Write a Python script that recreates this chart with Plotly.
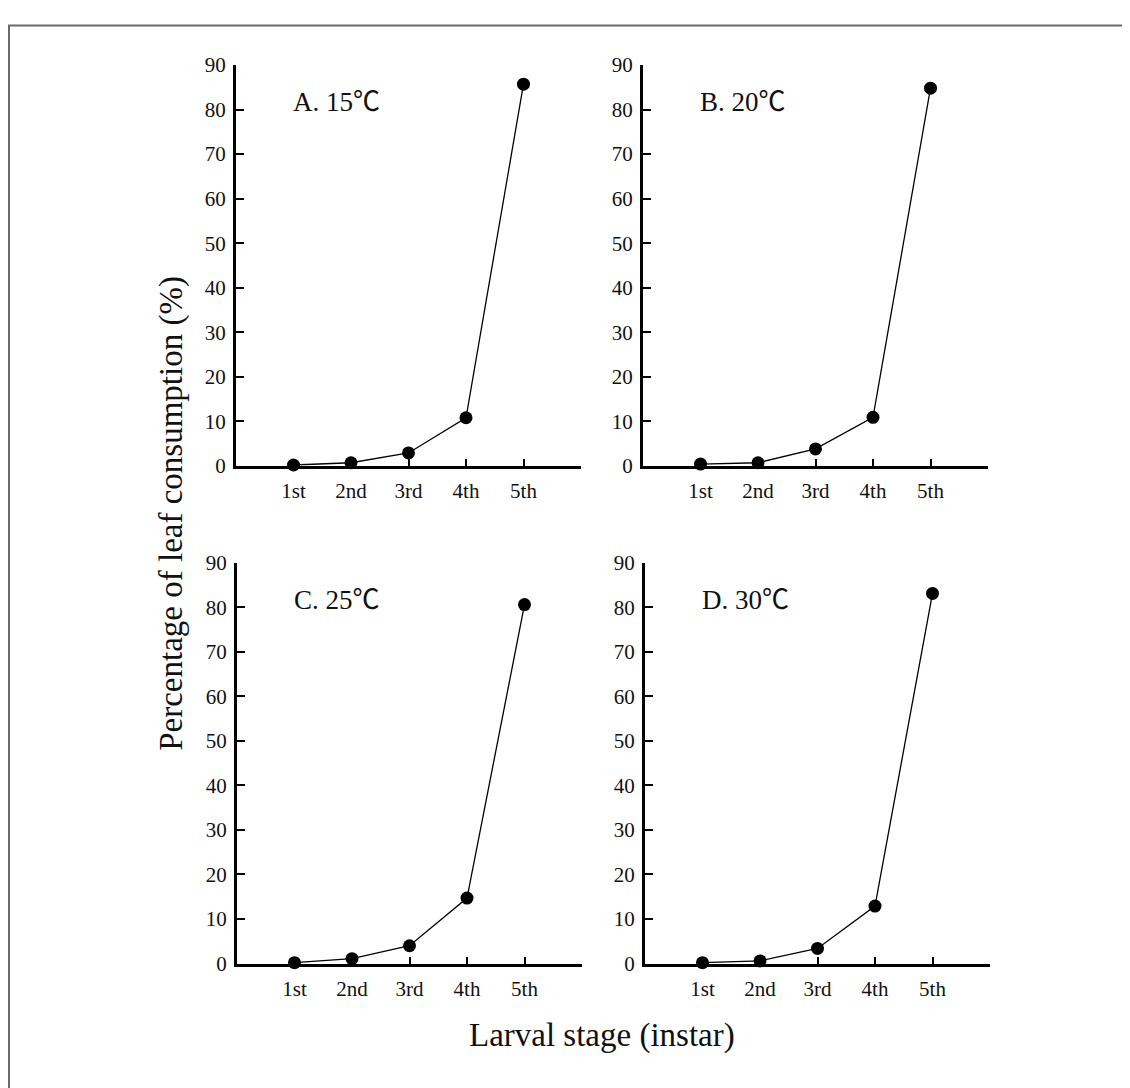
import plotly.graph_objects as go

# ---- data ----
stages = ["1st", "2nd", "3rd", "4th", "5th"]
stage_pos = [1, 2, 3, 4, 5]
panel_labels = ["A. 15℃", "B. 20℃", "C. 25℃", "D. 30℃"]
vals_15 = [0.2, 0.7, 2.9, 10.8, 85.7]
vals_20 = [0.4, 0.7, 3.8, 10.9, 84.8]
vals_25 = [0.2, 1.1, 4.0, 14.7, 80.6]
vals_30 = [0.2, 0.6, 3.4, 12.9, 83.1]
y_ticks = [0, 10, 20, 30, 40, 50, 60, 70, 80, 90]
x_title = "Larval stage (instar)"
y_title = "Percentage of leaf consumption (%)"

OFF = 8                      # default page body margin
W, H = 1130 - OFF, 1088 - OFF
FONT = "Liberation Serif, Times New Roman, Noto Sans CJK SC, serif"
TXT = "#111"


def px(v):
    return (v - OFF) / W


def py(v):
    return 1 - (v - OFF) / H


# panel pixel boxes in window coords: (left, right, top, bottom)
boxes = [(236, 581, 54, 464), (643, 988, 54, 464),
         (237, 582, 563, 973), (645, 990, 563, 973)]
series = [vals_15, vals_20, vals_25, vals_30]

fig = go.Figure()
for i, (vals, box) in enumerate(zip(series, boxes)):
    n = "" if i == 0 else str(i + 1)
    xa, ya = "x" + n, "y" + n
    fig.add_trace(go.Scatter(
        x=stage_pos, y=vals, xaxis=xa, yaxis=ya, mode="lines+markers",
        line=dict(color="black", width=1.3),
        marker=dict(color="black", size=13),
        cliponaxis=False, showlegend=False))
    l, r, t, b = box
    fig.layout["xaxis" + n] = dict(
        domain=[px(l), px(r)], anchor=ya, range=[0, 6],
        tickvals=stage_pos + [6], ticktext=stages + [""],
        ticks="inside", ticklen=7, tickwidth=1.5, tickcolor="black",
        showline=True, linewidth=3, linecolor="black",
        showgrid=False, zeroline=False, layer="below traces",
        tickfont=dict(family=FONT, size=21, color=TXT),
        ticklabelstandoff=4)
    fig.layout["yaxis" + n] = dict(
        domain=[py(b), py(t)], anchor=xa, range=[0, 90],
        tickvals=y_ticks,
        ticks="inside", ticklen=8, tickwidth=1.5, tickcolor="black",
        showline=True, linewidth=3, linecolor="black",
        showgrid=False, zeroline=False, layer="below traces",
        tickfont=dict(family=FONT, size=21, color=TXT),
        ticklabelstandoff=3)
    fig.add_annotation(
        x=0.95, y=81.7, xref=xa, yref=ya, text=panel_labels[i],
        showarrow=False, xanchor="left", yanchor="middle",
        font=dict(family=FONT, size=27, color=TXT))

fig.add_annotation(x=px(602), y=py(1047), xref="paper", yref="paper",
                   text=x_title, showarrow=False, xanchor="center", yanchor="middle",
                   font=dict(family=FONT, size=33, color=TXT))
fig.add_annotation(x=px(172), y=py(513), xref="paper", yref="paper",
                   text=y_title, showarrow=False, textangle=-90,
                   xanchor="center", yanchor="middle",
                   font=dict(family=FONT, size=33, color=TXT))

# outer frame (left & top edges visible)
fig.add_shape(type="rect", xref="paper", yref="paper",
              x0=1 / W, x1=1.05, y0=-0.05, y1=py(13.5),
              line=dict(color="#6a6a6a", width=2))

fig.update_layout(width=W, height=H, margin=dict(l=0, r=0, t=0, b=0),
                  paper_bgcolor="white", plot_bgcolor="white")
fig.write_html("out.html")
